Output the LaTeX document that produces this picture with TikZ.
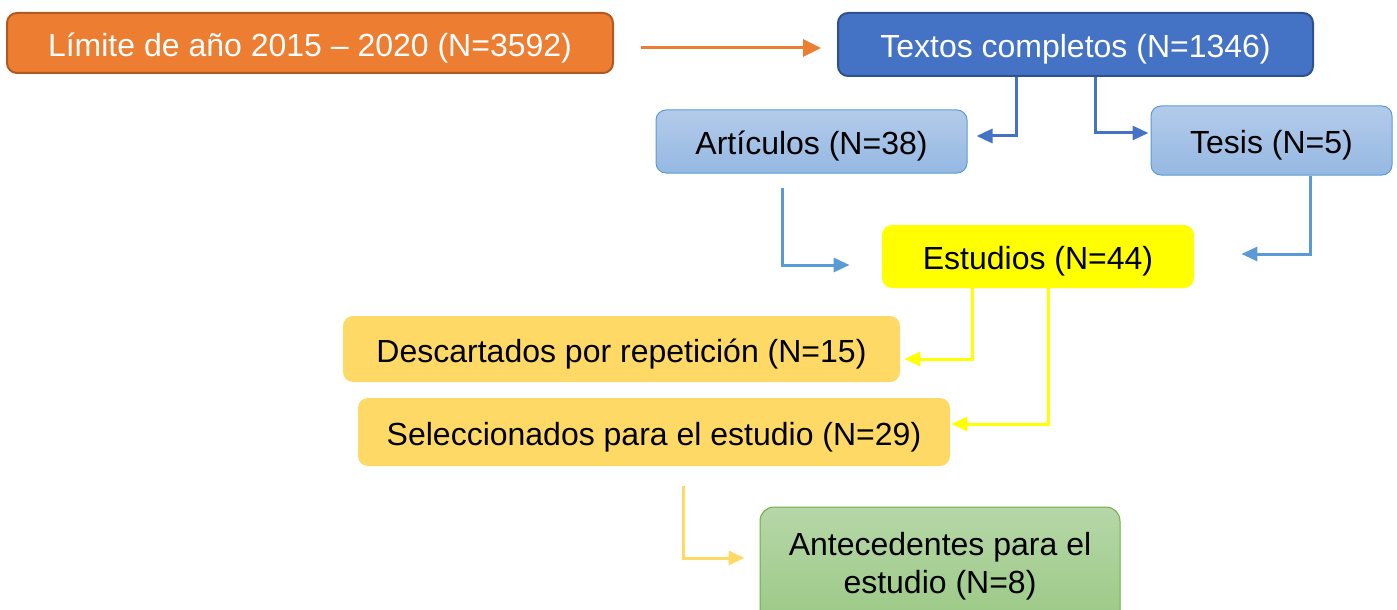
\documentclass[tikz,border=0pt]{standalone}
\usepackage{fontspec}
\setmainfont{Liberation Sans}
\usetikzlibrary{arrows.meta,calc}
\definecolor{orgfill}{HTML}{ED7D31}
\definecolor{orgline}{HTML}{AE5A21}
\definecolor{bluefill}{HTML}{4472C4}
\definecolor{blueline}{HTML}{2F528F}
\definecolor{lbtop}{HTML}{B3CBEA}
\definecolor{lbbot}{HTML}{95B8E2}
\definecolor{lbline}{HTML}{5B9BD5}
\definecolor{yel}{HTML}{FFFF00}
\definecolor{gold}{HTML}{FFD966}
\definecolor{grtop}{HTML}{B6D7A8}
\definecolor{grbot}{HTML}{9BC985}
\definecolor{grline}{HTML}{70AD47}
\begin{document}
\begin{tikzpicture}[x=0.5pt,y=-0.5pt,
  font=\fontsize{16}{19}\selectfont,
  box/.style={rounded corners=5pt, inner sep=0pt, align=center},
  oneline/.style={text height=16.5pt, text depth=3.4pt},
  orgbox/.style={box, oneline, fill=orgfill, draw=orgline, line width=1pt, text=white},
  bluebox/.style={box, oneline, fill=bluefill, draw=blueline, line width=1pt, text=white},
  lbbox/.style={box, oneline, top color=lbtop, bottom color=lbbot, draw=lbline, line width=0.5pt},
  yelbox/.style={box, oneline, fill=yel},
  goldbox/.style={box, oneline, fill=gold},
  grbox/.style={box, rounded corners=7pt, top color=grtop, bottom color=grbot, draw=grline, line width=0.5pt},
  con/.style={line width=1.5pt, -{Triangle[length=8pt,width=7pt]}},
  conOrange/.style={con, draw=orgfill, -{Triangle[length=9pt,width=8.5pt]}},
  conBlue/.style={con, draw=bluefill},
  conLight/.style={con, draw=lbline},
  conYellow/.style={con, draw=yel},
  conGold/.style={con, draw=gold}]
\path[use as bounding box, clip] (0,0) rectangle (1397,610);

\node[orgbox, minimum width=303pt, minimum height=30pt] (lim) at (310,43) {Límite de año 2015 – 2020 (N=3592)};
\node[bluebox, minimum width=237.5pt, minimum height=31.5pt] (tex) at (1075.5,44.5) {Textos completos (N=1346)};
\node[lbbox, minimum width=155.5pt, minimum height=31.5pt] (art) at (811.5,141.5) {Artículos (N=38)};
\node[lbbox, minimum width=120.5pt, minimum height=34.5pt] (tes) at (1271.5,140.5) {Tesis (N=5)};
\node[yelbox, minimum width=156pt, minimum height=31.5pt] (est) at (1038,256.5) {Estudios (N=44)};
\node[goldbox, minimum width=278.5pt, minimum height=33pt] (des) at (621.5,349) {Descartados por repetición (N=15)};
\node[goldbox, minimum width=296pt, minimum height=34pt] (sel) at (654,432) {Seleccionados para el estudio (N=29)};
\node[grbox, minimum width=180pt, minimum height=59pt] (ant) at (940,566) {Antecedentes para el\\estudio (N=8)};

\draw[conOrange] ($(lim.east)+(27,5)$) -- ($(tex.west)+(-16,3.5)$);
\draw[conBlue] ($(tex.south)+(-59.5,0)$) |- ($(art.east)+(9,-5.5)$);
\draw[conBlue] ($(tex.south)+(19.5,0)$) |- ($(tes.west)+(-2,-7.5)$);
\draw[conLight] ($(art.south)+(-29.5,14)$) |- ($(est.west)+(-32,8.5)$);
\draw[conLight] ($(tes.south)+(38.5,0)$) |- ($(est.east)+(47,-2.5)$);
\draw[conYellow] ($(est.south)+(-66,0)$) |- ($(des.east)+(4,10)$);
\draw[conYellow] ($(est.south)+(10,0)$) |- ($(sel.east)+(1,-8)$);
\draw[conGold] ($(sel.south)+(29,20)$) |- ($(ant.west)+(-15,-8)$);
\end{tikzpicture}
\end{document}
